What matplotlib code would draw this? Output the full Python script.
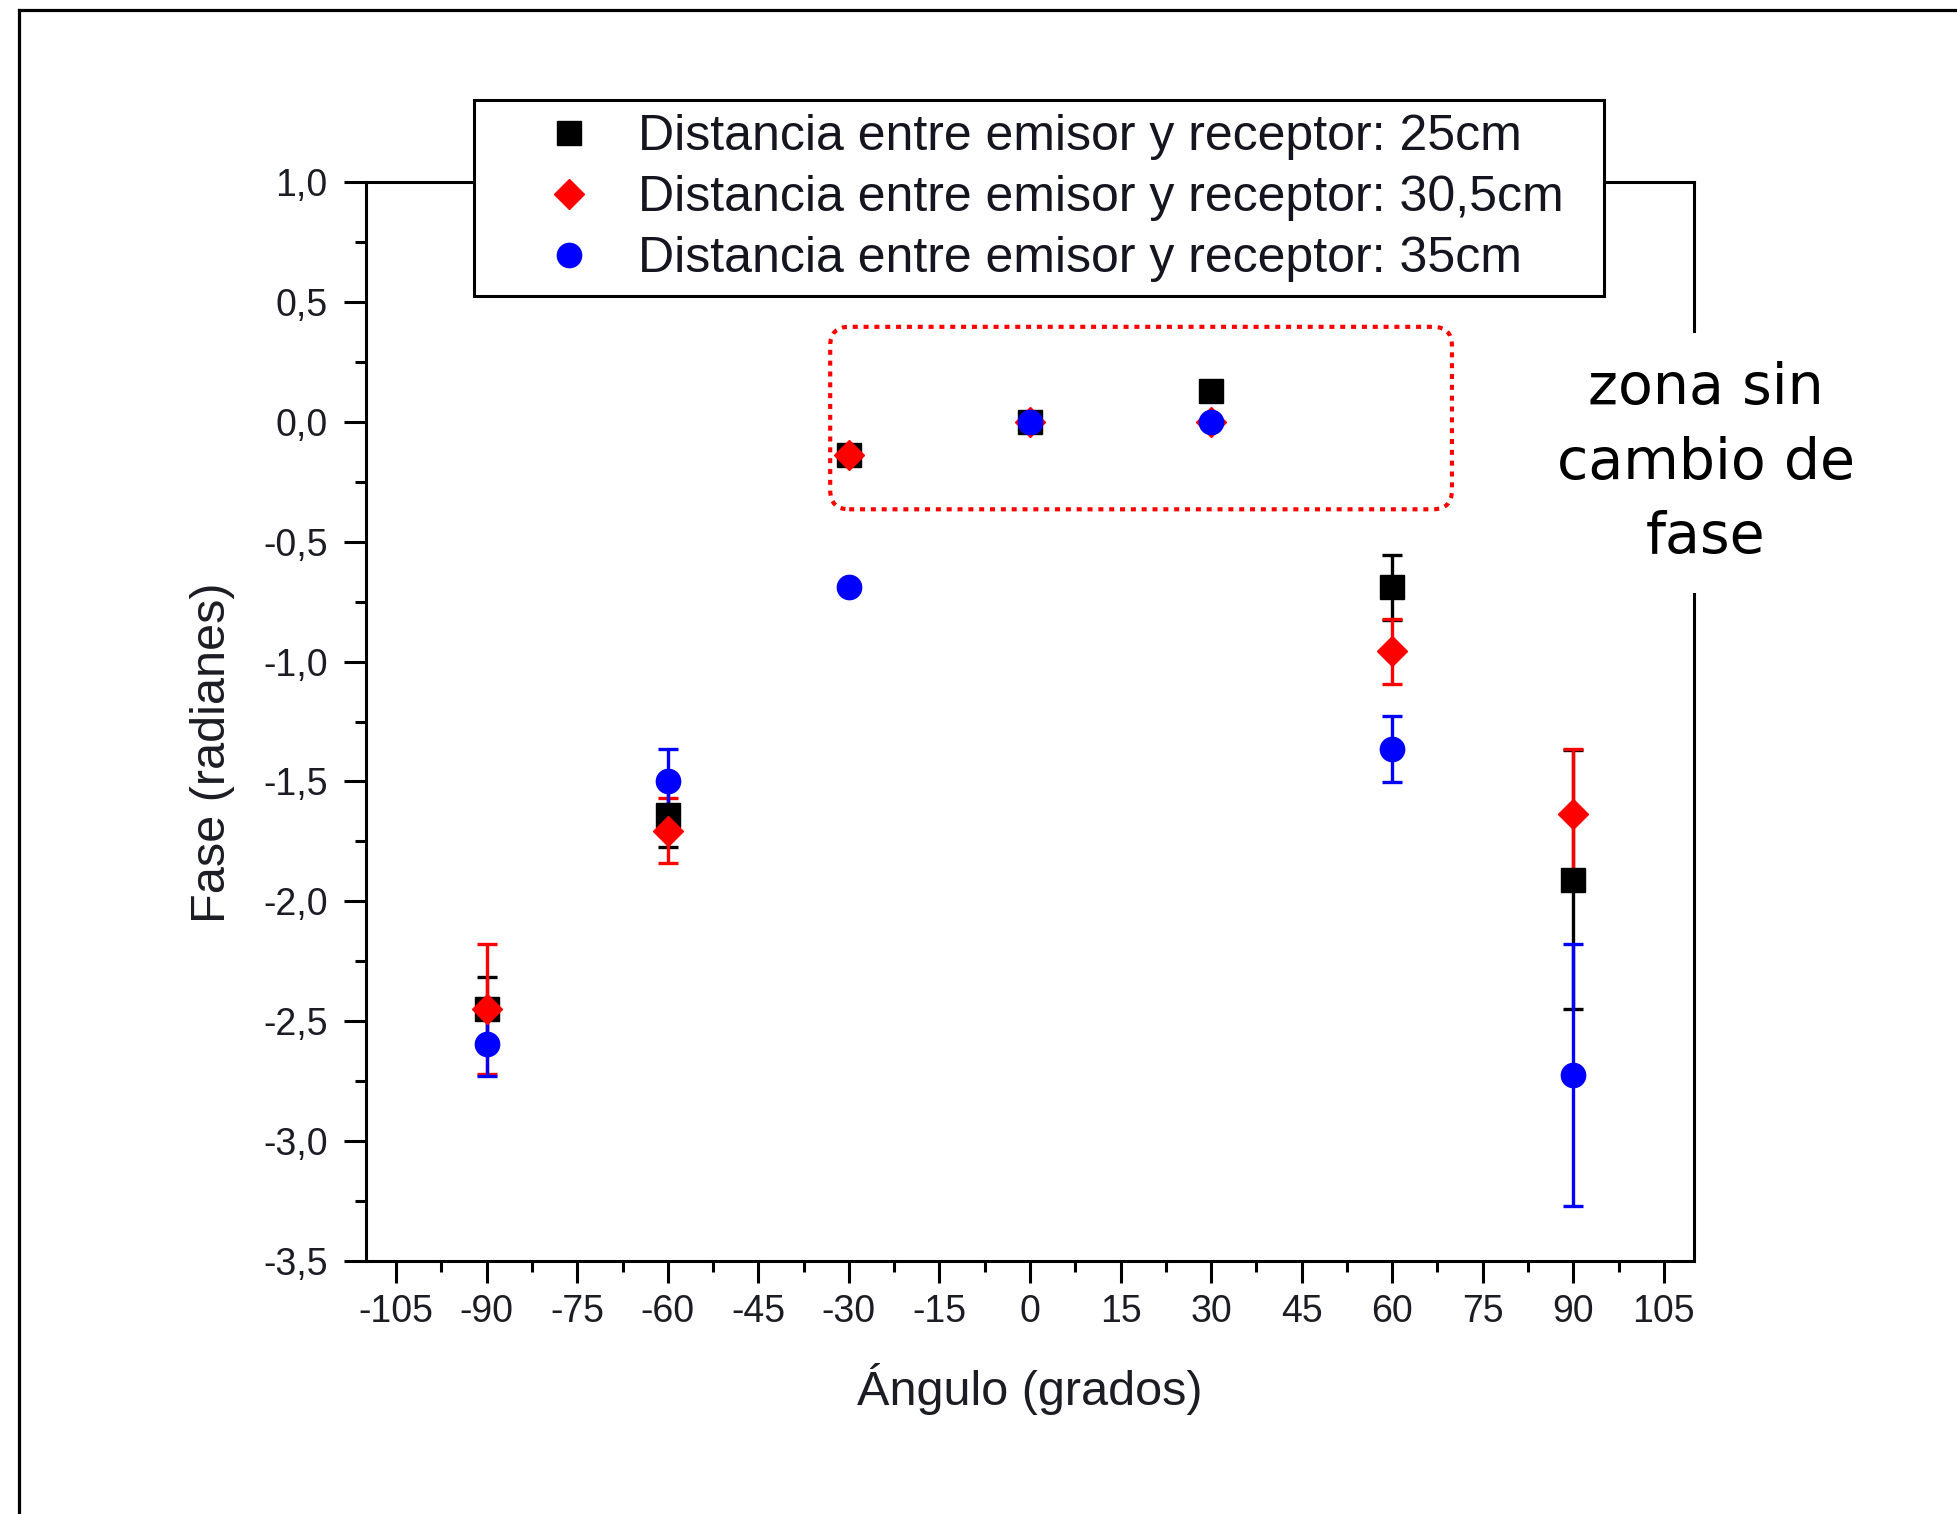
import numpy as np
import matplotlib
matplotlib.use("Agg")
import matplotlib.pyplot as plt
from matplotlib.lines import Line2D
from matplotlib.patches import FancyBboxPatch
from matplotlib.ticker import MultipleLocator, FuncFormatter

plt.rcParams["axes.unicode_minus"] = False
plt.rcParams["font.family"] = ["Liberation Sans", "DejaVu Sans"]

# Measured phase (radians) vs. angle (degrees) for three emitter-receiver distances
angulos = [-90, -60, -30, 0, 30, 60, 90]

fase_25 = [-2.45, -1.64, -0.14, 0.0, 0.13, -0.69, -1.91]
err_25 = [0.135, 0.135, 0.0, 0.0, 0.0, 0.135, 0.54]

fase_305 = [-2.45, -1.705, -0.14, 0.0, 0.0, -0.958, -1.637]
err_305 = [0.27, 0.137, 0.0, 0.0, 0.0, 0.137, 0.274]

fase_35 = [-2.595, -1.50, -0.69, 0.0, 0.0, -1.365, -2.725]
err_35 = [0.135, 0.137, 0.0, 0.0, 0.0, 0.137, 0.545]

etiquetas = [
    "Distancia entre emisor y receptor: 25cm",
    "Distancia entre emisor y receptor: 30,5cm",
    "Distancia entre emisor y receptor: 35cm",
]

W, H = 1957, 1514
fig = plt.figure(figsize=(W / 100, H / 100), dpi=100)
fig.patch.set_facecolor("white")

ax_l, ax_r, ax_t, ax_b = 366, 1694, 182, 1261
ax = fig.add_axes([ax_l / W, 1 - ax_b / H, (ax_r - ax_l) / W, (ax_b - ax_t) / H])

series = [
    (fase_25, err_25, "s", 17.5, "black"),
    (fase_305, err_305, "D", 15.5, "red"),
    (fase_35, err_35, "o", 17.5, "blue"),
]
for vals, errs, mk, ms, col in series:
    ax.errorbar(angulos, vals, yerr=errs, fmt=mk, ms=ms, color=col,
                mec=col, mfc=col, ecolor=col, elinewidth=2.4,
                capsize=7, capthick=2.4, linestyle="none")

ax.set_xlim(-110, 110)
ax.set_ylim(-3.5, 1.0)

ax.xaxis.set_major_locator(MultipleLocator(15))
ax.xaxis.set_minor_locator(MultipleLocator(7.5))
ax.yaxis.set_major_locator(MultipleLocator(0.5))
ax.yaxis.set_minor_locator(MultipleLocator(0.25))
ax.set_xticks(np.arange(-105, 106, 15))


def coma(v, pos):
    s = f"{v:.1f}".replace(".", ",")
    return "0,0" if s == "-0,0" else s


ax.yaxis.set_major_formatter(FuncFormatter(coma))
ax.xaxis.set_major_formatter(FuncFormatter(lambda v, p: f"{int(round(v))}"))

for s in ax.spines.values():
    s.set_linewidth(2.2)

ax.tick_params(axis="both", which="major", direction="out", length=15.6,
               width=2.2, labelsize=27, labelcolor="#1c1c24")
ax.tick_params(axis="both", which="minor", direction="out", length=8,
               width=2.2)
ax.tick_params(axis="x", which="major", pad=8)
ax.tick_params(axis="y", which="major", pad=12)
ax.tick_params(top=False, right=False, which="both")

ax.set_xlabel("Ángulo (grados)", fontsize=35, color="#1c1c24")
ax.set_ylabel("Fase (radianes)", fontsize=35, color="#1c1c24")
ax.xaxis.label.set_va("center")
ax.yaxis.label.set_va("center")
ax.xaxis.set_label_coords(0.5, -0.119)
ax.yaxis.set_label_coords(-0.1155, 0.471)

# Dotted rounded frame around the points without phase change
px_per_x = (ax_r - ax_l) / 220.0
px_per_y = (ax_b - ax_t) / 4.5
x0, x1, y0, y1 = -33.1, 69.9, -0.365, 0.396
radio_px = 19
caja = FancyBboxPatch((x0, y0), x1 - x0, y1 - y0,
                      boxstyle=f"round,pad=0,rounding_size={radio_px / px_per_x}",
                      mutation_aspect=px_per_x / px_per_y,
                      fill=False, edgecolor="red", linewidth=3,
                      linestyle=(0, (1.2, 1.4)), zorder=1)
ax.add_patch(caja)

handles = [
    Line2D([], [], marker="s", ms=17.5, color="black", linestyle="none"),
    Line2D([], [], marker="D", ms=15.5, color="red", linestyle="none"),
    Line2D([], [], marker="o", ms=17.5, color="blue", linestyle="none"),
]
leg = ax.legend(handles, etiquetas, loc="upper left",
                bbox_to_anchor=(474 / W, 0, (1604 - 474) / W, 1 - 100 / H),
                bbox_transform=fig.transFigure, mode="expand", fontsize=36,
                frameon=True, fancybox=False, framealpha=1,
                edgecolor="black", borderpad=0.28, labelspacing=0.3,
                handlelength=3.25, handletextpad=-0.24, borderaxespad=0)
leg.get_frame().set_linewidth(2.2)
for t in leg.get_texts():
    t.set_color("#15151f")

fig.text(1706 / W, 1 - 463 / H, "zona sin\ncambio de\nfase", ha="center",
         va="center", multialignment="center", fontsize=41,
         family="DejaVu Sans", linespacing=1.46,
         bbox=dict(facecolor="white", edgecolor="none", pad=20))

# Outer page frame (left and top edges)
fig.add_artist(Line2D([18.5 / W, 18.5 / W], [0, 1 - 9.5 / H],
                      transform=fig.transFigure, color="black", lw=2.3))
fig.add_artist(Line2D([18.5 / W, 1], [1 - 9.5 / H, 1 - 9.5 / H],
                      transform=fig.transFigure, color="black", lw=2.3))

fig.savefig("out.png", dpi=100, facecolor="white")
